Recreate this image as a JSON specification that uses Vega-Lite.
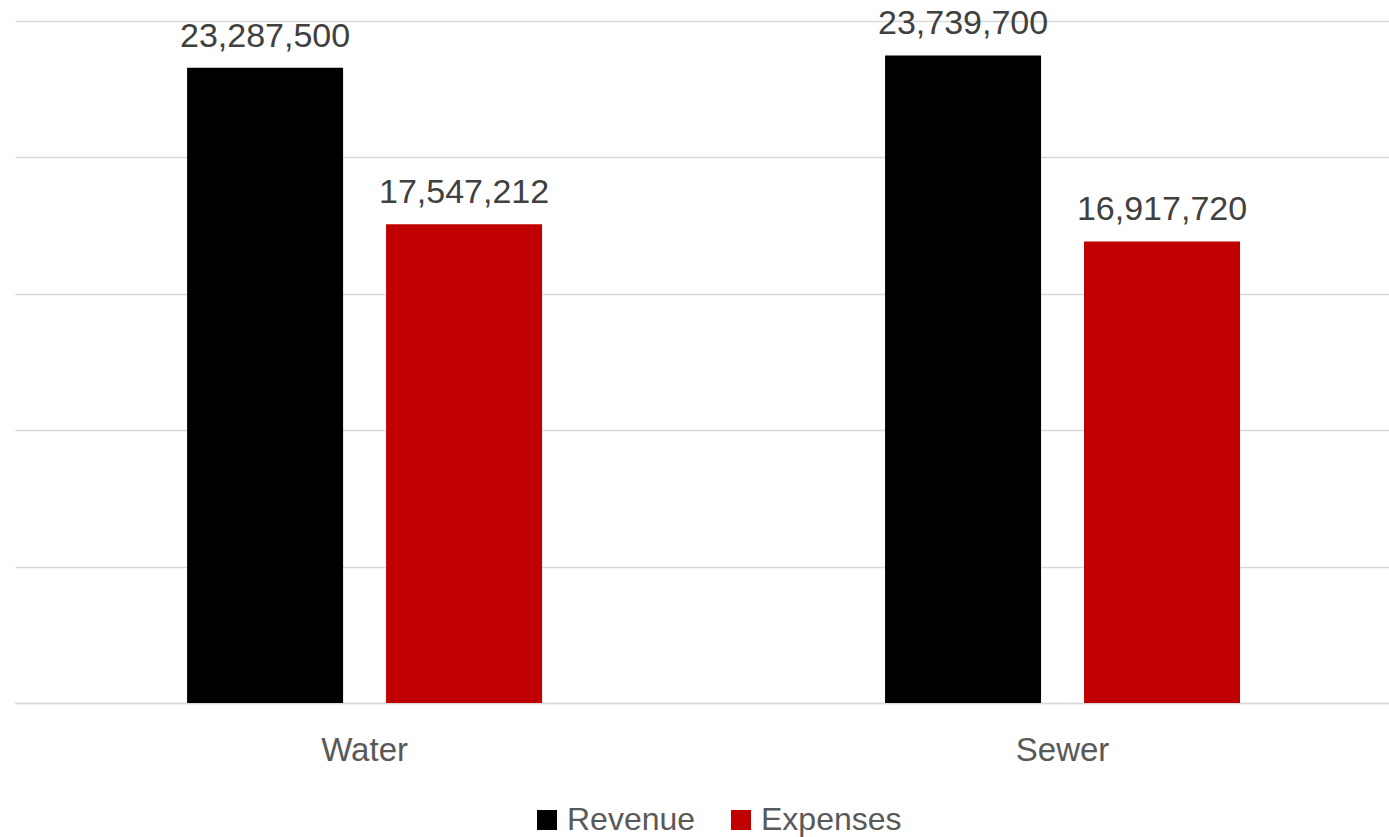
{
  "$schema": "https://vega.github.io/schema/vega-lite/v6.json",
  "width": 1374,
  "height": 682,
  "autosize": {"type": "none"},
  "padding": {"left": 15, "top": 21, "right": 0, "bottom": 134},
  "background": "#ffffff",
  "config": {
    "view": {"stroke": null},
    "font": "Liberation Sans"
  },
  "data": {
    "values": [
      {"category": "Water", "series": "Revenue", "value": 23287500},
      {"category": "Water", "series": "Expenses", "value": 17547212},
      {"category": "Sewer", "series": "Revenue", "value": 23739700},
      {"category": "Sewer", "series": "Expenses", "value": 16917720}
    ]
  },
  "encoding": {
    "x": {
      "field": "category",
      "type": "nominal",
      "sort": ["Water", "Sewer"],
      "scale": {"paddingInner": 0.4914, "paddingOuter": 0.23, "align": 0.536},
      "axis": {
        "title": null,
        "labelAngle": 0,
        "ticks": false,
        "domain": true,
        "domainColor": "#d9d9d9",
        "domainWidth": 1.5,
        "labelFont": "Liberation Sans",
        "labelFontSize": 33,
        "labelColor": "#595959",
        "labelPadding": 31
      }
    },
    "xOffset": {
      "field": "series",
      "type": "nominal",
      "sort": ["Revenue", "Expenses"],
      "scale": {"paddingInner": 0.216, "paddingOuter": 0}
    },
    "y": {
      "field": "value",
      "type": "quantitative",
      "scale": {"domain": [0, 25000000], "nice": false},
      "axis": {
        "title": null,
        "labels": false,
        "ticks": false,
        "domain": false,
        "grid": true,
        "gridColor": "#d9d9d9",
        "gridWidth": 1.5,
        "values": [0, 5000000, 10000000, 15000000, 20000000, 25000000]
      }
    }
  },
  "layer": [
    {
      "mark": {"type": "bar"},
      "encoding": {
        "color": {
          "field": "series",
          "type": "nominal",
          "sort": ["Revenue", "Expenses"],
          "scale": {"domain": ["Revenue", "Expenses"], "range": ["#000000", "#C00000"]},
          "legend": {
            "title": null,
            "orient": "none",
            "legendX": 516,
            "legendY": 783,
            "direction": "horizontal",
            "symbolType": "square",
            "symbolSize": 400,
            "symbolStrokeWidth": 0,
            "labelFont": "Liberation Sans",
            "labelFontSize": 32,
            "labelColor": "#595959",
            "labelOffset": 4,
            "columnPadding": 29
          }
        }
      }
    },
    {
      "mark": {
        "type": "text",
        "baseline": "alphabetic",
        "dy": -21,
        "font": "Liberation Sans",
        "fontSize": 34,
        "color": "#404040"
      },
      "encoding": {
        "text": {"field": "value", "type": "quantitative", "format": ",.0f"}
      }
    }
  ]
}
